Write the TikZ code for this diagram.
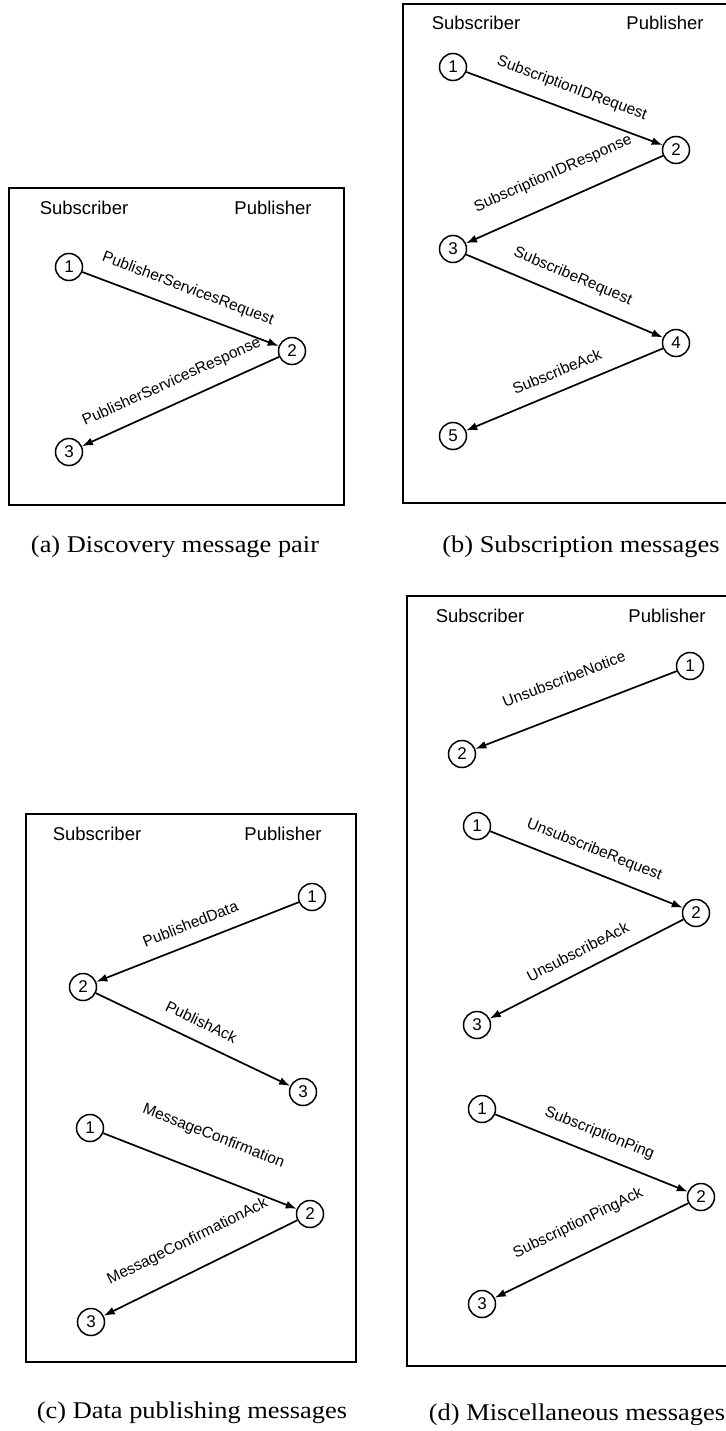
\documentclass[tikz,border=0pt]{standalone}
\usepackage{graphicx}
\usepackage{fontspec}
\setmainfont{Liberation Serif}
\newfontfamily\arialfont{Liberation Sans}
\usetikzlibrary{arrows.meta}

\begin{document}
\begin{tikzpicture}[x=1pt,y=-1pt,
  frame/.style={draw, line width=2.5pt},
  role/.style={font=\arialfont\fontsize{18.5}{20}\selectfont, inner sep=0pt},
  state/.style={circle, draw, line width=1.5pt, minimum size=27pt, inner sep=0pt,
                font=\arialfont\fontsize{17}{18}\selectfont},
  msg/.style={line width=1.7pt, -{Latex[length=11pt,width=8pt]}},
  msglabel/.style={midway, sloped, above=12pt, inner sep=1pt,
                   font=\arialfont\fontsize{15.5}{17}\selectfont},
  caption/.style={font=\fontsize{24}{26}\selectfont, inner sep=0pt}
]
\useasboundingbox (0,0) rectangle (725,1431);

% ---------- (a) discovery ----------
\draw[frame] (9,188) rectangle (344,505);
\node[role] (aSub) at (84,208) {Subscriber};
\node[role] (aPub) at (273,208) {Publisher};
\node[state] (a1) at (69,267) {1};
\node[state] (a2) at (292,351) {2};
\node[state] (a3) at (69,452) {3};
\draw[msg] (a1) -- (a2) node[msglabel] {PublisherServicesRequest};
\draw[msg] (a2) -- (a3) node[msglabel] {PublisherServicesResponse};
\node[caption] (capA) at (175,547) {\scalebox{1.1}[1]{(a) Discovery message pair}};

% ---------- (b) subscription ----------
\draw[frame] (403,4) rectangle (745,503);
\node[role] (bSub) at (476,23) {Subscriber};
\node[role] (bPub) at (665,23) {Publisher};
\node[state] (b1) at (453,67) {1};
\node[state] (b2) at (676,150) {2};
\node[state] (b3) at (453,249) {3};
\node[state] (b4) at (676,343) {4};
\node[state] (b5) at (453,436) {5};
\draw[msg] (b1) -- (b2) node[msglabel] {SubscriptionIDRequest};
\draw[msg] (b2) -- (b3) node[msglabel, above=7pt] {SubscriptionIDResponse};
\draw[msg] (b3) -- (b4) node[msglabel] {SubscribeRequest};
\draw[msg] (b4) -- (b5) node[msglabel] {SubscribeAck};
\node[caption] (capB) at (581,547) {\scalebox{1.1}[1]{(b) Subscription messages}};

% ---------- (c) data publishing ----------
\draw[frame] (26,814) rectangle (356,1362);
\node[role] (cSub) at (97,834) {Subscriber};
\node[role] (cPub) at (283,834) {Publisher};
\node[state] (c1) at (312,897) {1};
\node[state] (c2) at (83,987) {2};
\node[state] (c3) at (303,1092) {3};
\node[state] (c4) at (90,1128) {1};
\node[state] (c5) at (310,1214) {2};
\node[state] (c6) at (91,1322) {3};
\draw[msg] (c1) -- (c2) node[msglabel] {PublishedData};
\draw[msg] (c2) -- (c3) node[msglabel] {PublishAck};
\draw[msg] (c4) -- (c5) node[msglabel, above=16pt] {MessageConfirmation};
\draw[msg] (c5) -- (c6) node[msglabel, above=8pt] {MessageConfirmationAck};
\node[caption] (capC) at (192,1413) {\scalebox{1.1}[1]{(c) Data publishing messages}};

% ---------- (d) miscellaneous ----------
\draw[frame] (407,596) rectangle (745,1366);
\node[role] (dSub) at (480,616) {Subscriber};
\node[role] (dPub) at (667,616) {Publisher};
\node[state] (d1) at (690,666) {1};
\node[state] (d2) at (462,754) {2};
\node[state] (d3) at (477,826) {1};
\node[state] (d4) at (696,913) {2};
\node[state] (d5) at (477,1025) {3};
\node[state] (d6) at (482,1109) {1};
\node[state] (d7) at (701,1197) {2};
\node[state] (d8) at (482,1304) {3};
\draw[msg] (d1) -- (d2) node[msglabel, above=14pt] {UnsubscribeNotice};
\draw[msg] (d3) -- (d4) node[msglabel] {UnsubscribeRequest};
\draw[msg] (d4) -- (d5) node[msglabel] {UnsubscribeAck};
\draw[msg] (d6) -- (d7) node[msglabel] {SubscriptionPing};
\draw[msg] (d7) -- (d8) node[msglabel, above=9pt] {SubscriptionPingAck};
\node[caption] (capD) at (577,1415) {\scalebox{1.1}[1]{(d) Miscellaneous messages}};
\end{tikzpicture}
\end{document}
